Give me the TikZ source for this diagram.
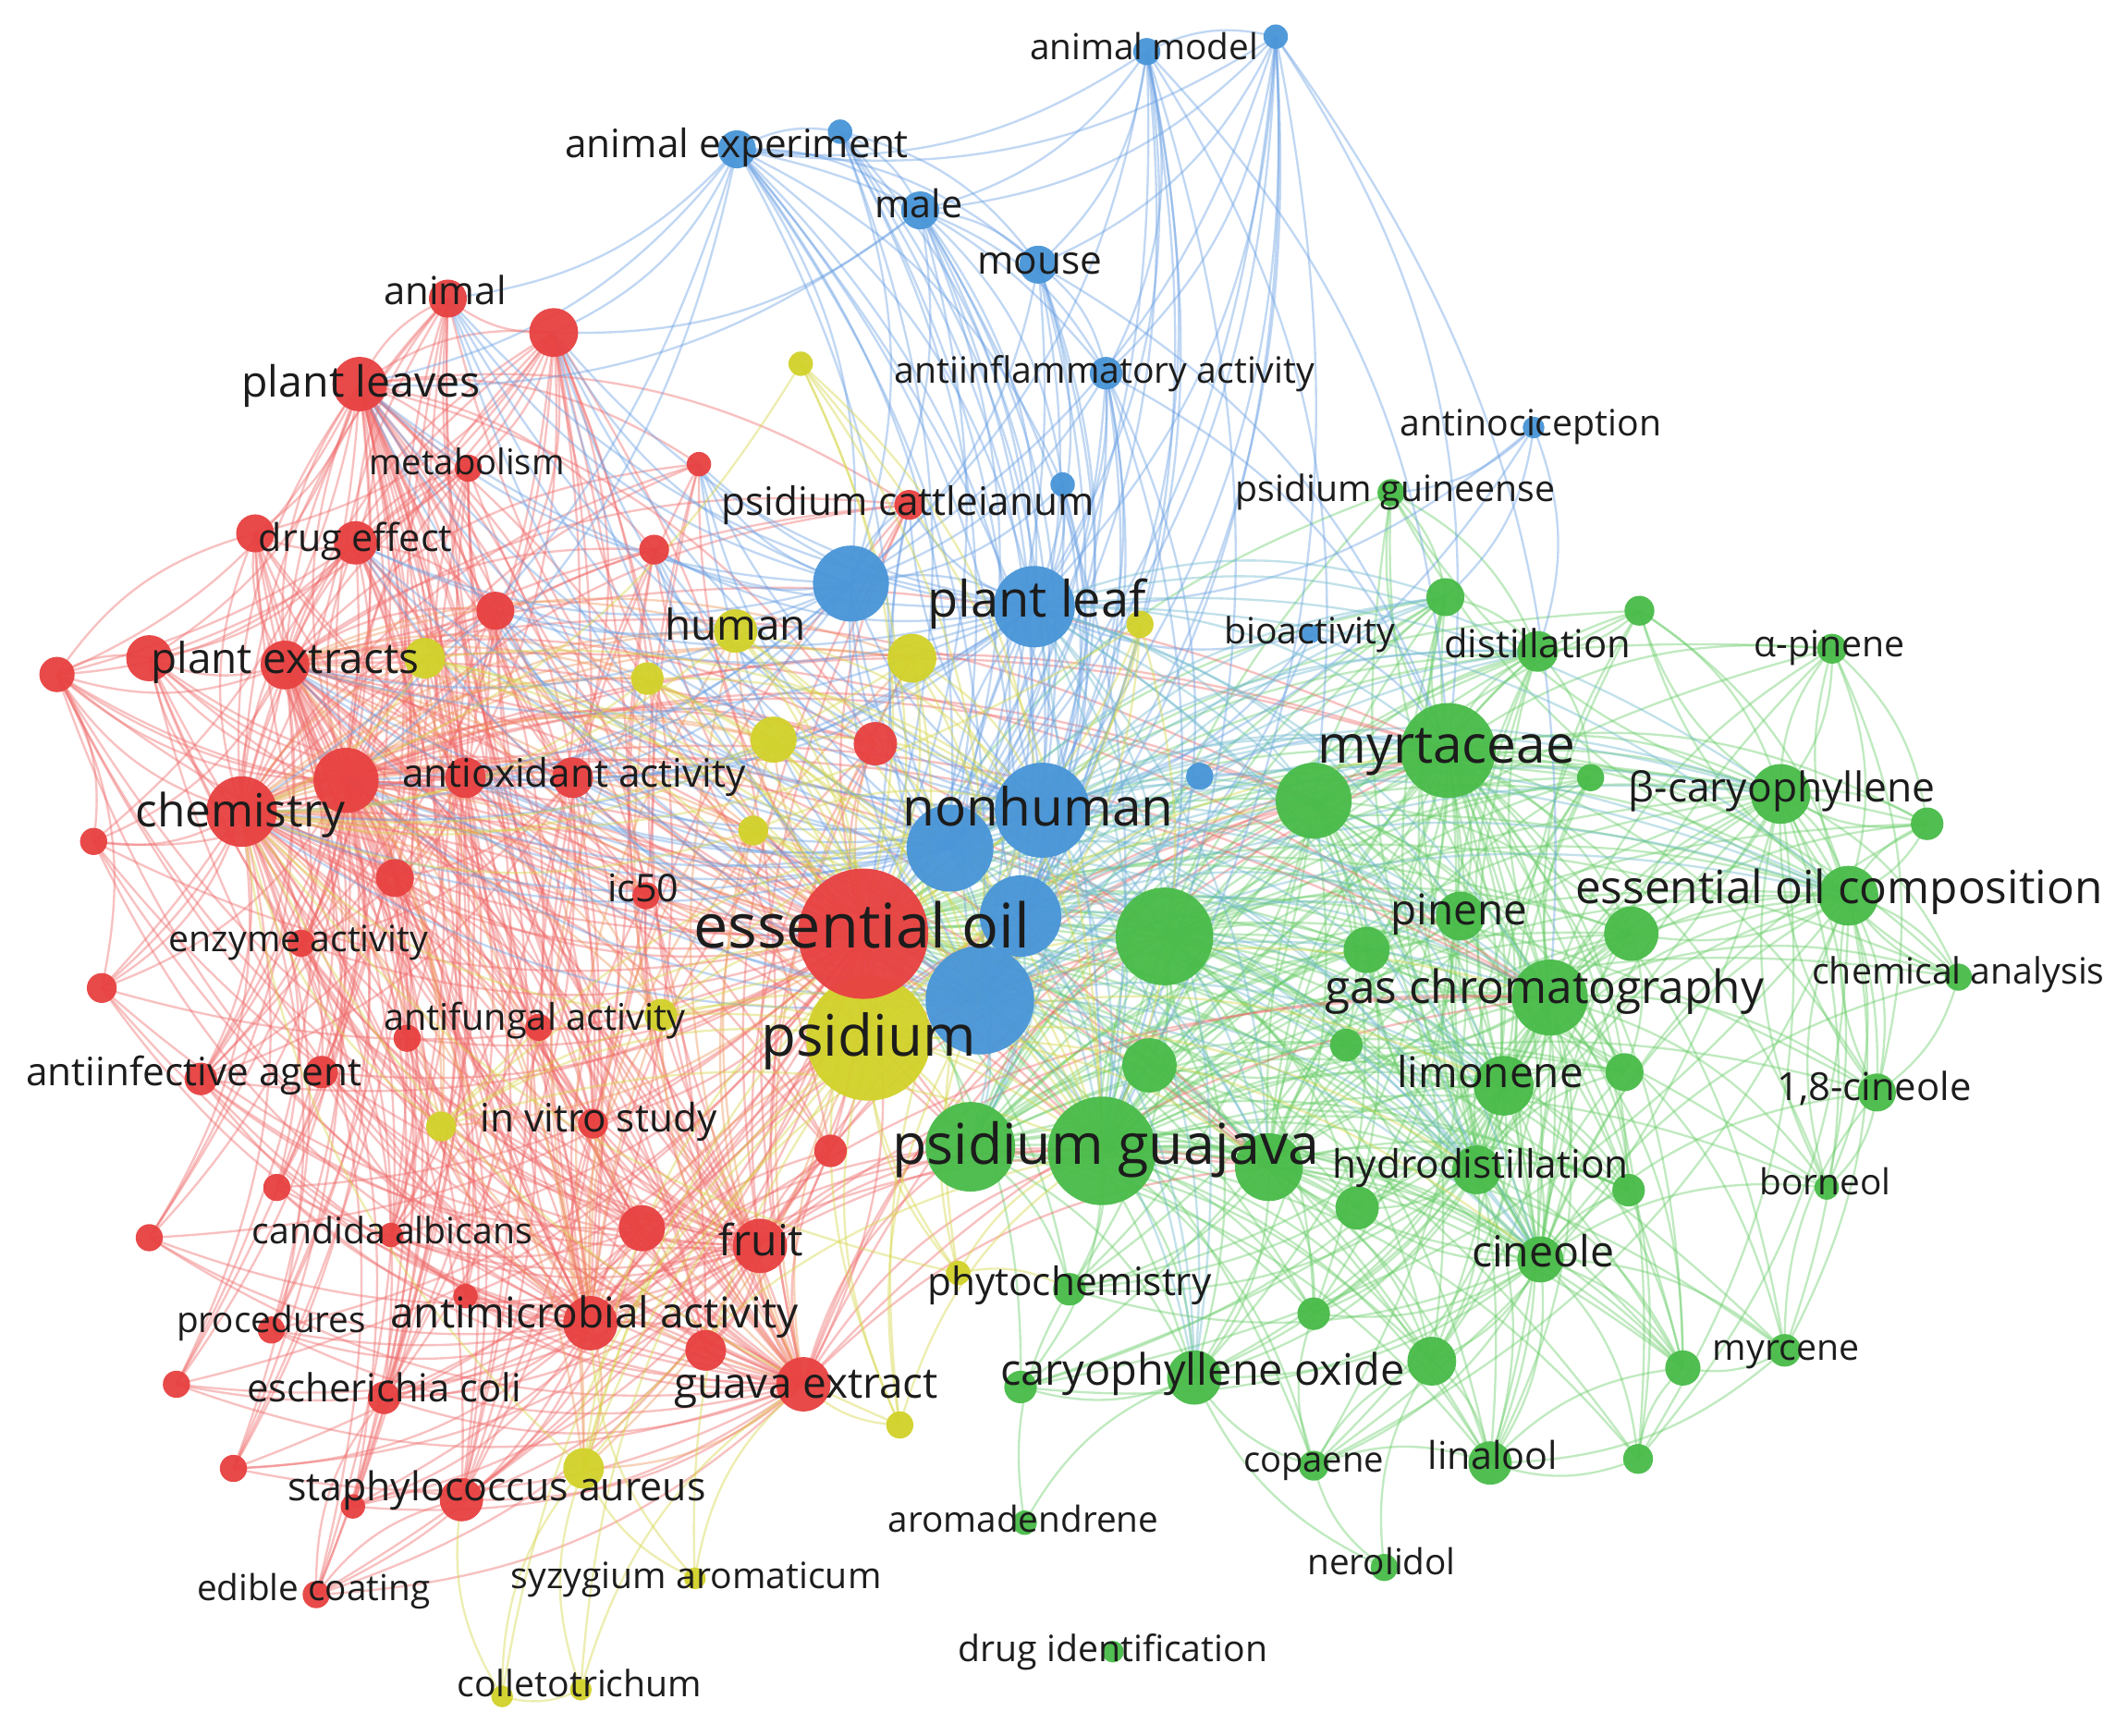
\documentclass[tikz,border=0pt]{standalone}
\usepackage{fontspec}
\setmainfont{Open Sans}
\definecolor{cR}{RGB}{232,66,66}
\definecolor{cG}{RGB}{74,188,74}
\definecolor{cB}{RGB}{74,150,216}
\definecolor{cY}{RGB}{210,210,44}
\definecolor{eR}{RGB}{240,105,105}
\definecolor{eG}{RGB}{105,205,105}
\definecolor{eB}{RGB}{105,160,228}
\definecolor{eY}{RGB}{214,214,70}
\definecolor{eO}{RGB}{238,150,90}
\definecolor{eT}{RGB}{110,185,205}
\definecolor{txt}{RGB}{28,28,28}
\newcommand\fz[1]{\fontsize{#1}{#1}\selectfont}
\newcommand\kwlabel[5]{\node[lab,font=\fz{#4}] (#1) at (#2,{#3+0.95*#4}) {#5};}
\tikzset{
  lk/.style={draw=#1, line width=0.45pt, draw opacity=0.42},
  kw/.style={circle, inner sep=0pt, draw=none, fill=#1, fill opacity=0.96},
  lab/.style={text=txt, inner sep=0pt, anchor=base},
  cv/.style={bend left=20},
}
\def\BlueN{b1/845/38/10, b2/940/27/9, b3/543/110/14, b4/619/97/9, b5/678/155/14, b6/765/195/14, b7/815/275/12, b8/1130/315/8, b9/783/357/9, b10/627/430/28, b11/762/447/30, b12/966/467/7, b13/768/597/35, b14/700/625/32, b15/752/675/30, b16/722/737/40, b17/884/572/10}
\def\RedN{r2/330/220/14, r3/408/245/18, r4/265/283/20, r5/345/345/10, r6/515/342/9, r7/262/400/16, r8/188/393/14, r9/482/405/11, r10/365/450/14, r11/210/490/18, r12/110/485/17, r13/42/497/13, r14/255/575/24, r15/178/598/26, r16/343/573/15, r17/422/573/15, r18/645/548/16, r19/69/620/10, r20/291/647/14, r21/476/660/10, r22/222/695/10, r23/75/728/11, r24/300/765/10, r25/397/757/10, r26/148/795/12, r27/237/790/12, r28/437/828/11, r29/612/848/12, r30/204/875/10, r31/110/912/10, r32/288/910/9, r33/473/905/17, r34/560/918/20, r35/343/955/9, r36/200/980/10, r37/435/975/20, r38/520/995/15, r39/130/1020/10, r40/283/1030/12, r41/592/1020/20, r42/172/1082/10, r43/340/1105/16, r44/260/1110/9, r45/233/1175/10, r46/670/372/11, r1/636/688/48}
\def\YelN{y1/640/765/46, y2/590/268/9, y3/542/465/16, y4/672/485/18, y5/477/500/12, y6/570/545/17, y7/555/612/11, y8/840/460/10, y9/313/485/15, y10/487/748/12, y11/325/830/11, y12/706/938/9, y13/663/1050/10, y14/430/1082/15, y15/512/1163/8, y16/370/1250/8, y17/428/1245/8}
\def\GreN{g1/812/848/40, g2/715/845/33, g3/935/860/25, g4/1025/363/10, g5/1065/440/14, g6/1208/450/11, g7/1133/480/15, g8/1350/478/11, g9/1067/553/35, g10/968/590/28, g11/1172/573/10, g12/1312/585/22, g13/1420/607/12, g14/1362/660/22, g15/1202/688/20, g16/1076/675/18, g17/1007/700/17, g18/858/690/36, g19/1142/735/28, g20/1443/720/10, g21/992/770/12, g22/847/785/20, g23/1108/800/22, g24/1197/790/14, g25/1383/805/14, g26/1088/862/18, g27/1200/877/12, g28/1000/890/16, g29/1346/875/9, g30/1135/928/17, g31/968/968/12, g32/1055/1003/18, g33/880/1015/20, g34/752/1022/12, g35/1315/995/12, g36/1240/1008/13, g37/968/1080/11, g38/1098/1078/16, g39/1207/1075/11, g40/755/1122/9, g41/1020/1155/10, g42/820/1217/8, g43/788/950/12}
% edge groups
\def\RHa{r1,r15,r14,r11,r4,r37,r41,r34}
\def\RM{r2,r5,r6,r8,r9,r10,r12,r13,r18,r19,r20,r21,r22,r23,r24,r25,r26,r27,r28,r29,r30,r31,r32,r35,r36,r38,r39,r40,r42,r43,r44,r45,r46}
\def\RHb{r3,r16,r17,r33,r7}
\def\RMb{r2,r5,r8,r10,r12,r13,r20,r22,r26,r28,r32,r40,r43}
\def\GH{g1,g2,g3,g9,g10,g18,g19,g23,g26,g30}
\def\GMa{g5,g7,g11,g12,g14,g15,g16,g17,g21,g22,g24,g27,g28,g31,g32,g33,g36,g38,g43}
\def\GHb{g1,g9,g19,g14,g12,g30}
\def\GMb{g6,g8,g13,g20,g25,g29,g35,g37,g39,g4,g34}
\def\GAll{g1,g2,g3,g4,g5,g6,g7,g8,g9,g10,g11,g12,g13,g14,g15,g16,g17,g18,g19,g20,g21,g22,g23,g24,g25,g26,g27,g28,g29,g30,g31,g32,g33,g34,g35,g36,g37,g38,g39,g43}
\def\BT{b1,b2,b3,b4,b5,b6,b7,b9}
\def\BC{b13,b14,b15,b16,b10,b11}
\begin{document}
\begin{tikzpicture}[x=0.1mm,y=-0.1mm]
\fill[white] (0,0) rectangle (1568,1279);
\useasboundingbox (0,0) rectangle (1568,1279);
% coordinates
\foreach \n/\x/\y/\r in \BlueN {\coordinate (\n) at (\x,\y);}
\foreach \n/\x/\y/\r in \RedN {\coordinate (\n) at (\x,\y);}
\foreach \n/\x/\y/\r in \YelN {\coordinate (\n) at (\x,\y);}
\foreach \n/\x/\y/\r in \GreN {\coordinate (\n) at (\x,\y);}
% ---------------- edges ----------------
% green
\foreach \a in \GH {\foreach \b in \GMa {\draw[lk=eG] (\a) to[cv] (\b);}}
\foreach \a in \GHb {\foreach \b in \GMb {\draw[lk=eG] (\a) to[cv] (\b);}}
\foreach \a/\b in {g1/g2,g1/g3,g1/g9,g1/g10,g1/g18,g1/g19,g1/g23,g1/g26,g1/g30,g2/g3,g2/g9,g2/g10,g2/g18,g2/g19,g2/g23,g2/g30,g3/g9,g3/g18,g3/g19,g3/g23,g3/g26,g3/g30,g9/g10,g9/g18,g9/g19,g9/g23,g9/g26,g9/g30,g10/g18,g10/g19,g10/g23,g10/g26,g18/g19,g18/g23,g18/g26,g18/g30,g19/g23,g19/g26,g19/g30,g23/g26,g23/g30,g26/g30,
 g8/g12,g8/g13,g8/g14,g8/g25,g13/g12,g13/g14,g20/g14,g20/g25,g20/g12,g25/g14,g25/g12,g25/g29,g29/g14,g29/g12,g35/g36,g35/g25,g35/g38,g39/g38,g39/g36,g6/g7,g6/g12,g6/g14,g12/g14,g12/g15,g14/g15,g16/g17,g15/g24,g37/g33,g37/g32,g37/g31,g37/g38,g41/g37,g41/g33,g41/g32,g40/g43,g40/g33,g4/g5,g4/g7,g5/g7,g7/g11,g38/g36,g33/g34,g32/g38}
 {\draw[lk=eG] (\a) to[cv] (\b);}
% red
\foreach \a in \RHa {\foreach \b in \RM {\draw[lk=eR] (\a) to[cv] (\b);}}
\foreach \a in \RHb {\foreach \b in \RMb {\draw[lk=eR] (\a) to[cv] (\b);}}
\foreach \a/\b in {r1/r15,r1/r14,r1/r11,r1/r4,r1/r3,r1/r37,r1/r41,r1/r34,r1/r16,r1/r17,r1/r33,r1/r7,r15/r14,r15/r11,r15/r4,r15/r3,r15/r37,r15/r41,r15/r34,r15/r16,r15/r7,r15/r33,r14/r11,r14/r4,r14/r3,r14/r37,r14/r41,r14/r16,r14/r17,r14/r7,r11/r4,r11/r3,r11/r37,r11/r7,r11/r16,r4/r3,r4/r7,r4/r37,r4/r16,r4/r17,r3/r7,r3/r17,r3/r37,r3/r34,r37/r41,r37/r34,r37/r33,r37/r16,r41/r34,r41/r33,r34/r33,r16/r17,r7/r16,r13/r12,r13/r19,r13/r8,r13/r23,r45/r43,r45/r40,r44/r43}
 {\draw[lk=eR] (\a) to[cv] (\b);}
% red - yellow
\foreach \a in {r1,r15,r14,r11,r37,r41} {\foreach \b in {y1,y3,y4,y5,y6,y7,y9,y10,y11,y14} {\draw[lk=eO] (\a) to[cv] (\b);}}
% red - green
\foreach \b in \GAll {\draw[lk=eG] (r1) to[cv] (\b);}
\foreach \a in {r15,r14,r11,r37,r41,r34} {\foreach \b in {g1,g2,g3,g9,g10,g18,g19} {\draw[lk=eR] (\a) to[cv] (\b);}}
% blue
\foreach \a in \BT {\foreach \b in \BC {\draw[lk=eB] (\a) to[cv] (\b);}}
\foreach \a/\b in {b1/b2,b1/b3,b1/b5,b1/b6,b1/b7,b2/b3,b2/b5,b3/b4,b3/b5,b3/b6,b3/b7,b4/b5,b5/b6,b5/b7,b6/b7,b2/b6,b4/b6,b3/b9,b5/b9,b2/b7,
 b13/b14,b13/b15,b13/b16,b13/b10,b13/b11,b14/b15,b14/b16,b14/b10,b14/b11,b15/b16,b15/b10,b15/b11,b16/b10,b16/b11,b10/b11,
 b8/b11,b8/b13,b8/g5,b8/g7,b8/g4,b12/b13,b12/b16,b12/b11,b12/g9,b17/b13,b17/b16,b17/g9,b17/g10,
 b3/r2,b3/r3,b3/r4,b3/r14,b3/r15,b5/r3,b5/r1,b5/r4,b4/r1,b1/r1,b6/r1,b7/r1,b3/r1,b2/r1,
 b1/g9,b1/g10,b2/g9,b2/g19,b6/g9,b7/g9,b7/g18,b7/g1,b5/g1,b3/g1,b1/g1,b2/g1}
 {\draw[lk=eB] (\a) to[cv] (\b);}
\foreach \a in {b13,b14,b15,b16,b11} {\foreach \b in {g1,g2,g3,g9,g10,g18,g19,g23,g26,g30,g16,g14,g12,g7,g5,g33} {\draw[lk=eT] (\a) to[cv] (\b);}}
\foreach \a in {b13,b14,b16,b10,b11} {\foreach \b in {r2,r3,r4,r7,r10,r15,r14,r11,r16,r17,r9,r6,r46} {\draw[lk=eB] (\a) to[cv] (\b);}}
% yellow
\foreach \a in {y2,y3,y4,y5,y6,y7,y8,y9,y10,y11,y12,y13,y14} {\foreach \b in {y1,r1,b13,b16,g1,r15} {\draw[lk=eY] (\a) to[cv] (\b);}}
\foreach \b in \GH {\draw[lk=eY] (y1) to[cv] (\b);}
\foreach \a/\b in {y15/y1,y15/r41,y15/y14,y15/r37,y16/y14,y16/y1,y16/r43,y17/y1,y17/r41,y17/y14,y17/y16,y12/g43,y13/r41}
 {\draw[lk=eY] (\a) to[cv] (\b);}
% ---------------- circles ----------------
\foreach \n/\x/\y/\r in \GreN {\node[kw=cG, minimum size=\r*0.2mm] (\n-k) at (\n) {};}
\foreach \n/\x/\y/\r in \YelN {\node[kw=cY, minimum size=\r*0.2mm] (\n-k) at (\n) {};}
\foreach \n/\x/\y/\r in \BlueN {\node[kw=cB, minimum size=\r*0.2mm] (\n-k) at (\n) {};}
\foreach \n/\x/\y/\r in \RedN {\node[kw=cR, minimum size=\r*0.2mm] (\n-k) at (\n) {};}
% ---------------- labels ----------------
\kwlabel{lb1}{843}{37}{7.5}{animal model}
\kwlabel{lb3}{543}{108}{8.2}{animal experiment}
\kwlabel{lb5}{677}{153}{8.0}{male}
\kwlabel{lb6}{766}{194}{8.2}{mouse}
\kwlabel{lb7}{814}{275}{7.6}{antiinflammatory activity}
\kwlabel{lb8}{1128}{314}{7.6}{antinociception}
\kwlabel{lr46}{669}{372}{8.2}{psidium cattleianum}
\kwlabel{lb11}{764}{445}{10.5}{plant leaf}
\kwlabel{lb12}{965}{467}{7.6}{bioactivity}
\kwlabel{lb13}{765}{598}{11.0}{nonhuman}
\kwlabel{lr2}{328}{217}{8.1}{animal}
\kwlabel{lr4}{266}{284}{9.0}{plant leaves}
\kwlabel{lr5}{344}{343}{7.4}{metabolism}
\kwlabel{lr7}{262}{399}{8.0}{drug effect}
\kwlabel{lr11}{210}{488}{8.9}{plant extracts}
\kwlabel{lr15}{177}{600}{9.6}{chemistry}
\kwlabel{lr17}{423}{572}{8.2}{antioxidant activity}
\kwlabel{lr21}{474}{657}{8.0}{ic50}
\kwlabel{lr1}{635}{686}{12.9}{essential oil}
\kwlabel{lr22}{220}{694}{7.6}{enzyme activity}
\kwlabel{lr25}{394}{752}{7.7}{antifungal activity}
\kwlabel{lr26}{143}{792}{8.2}{antiinfective agent}
\kwlabel{lr28}{441}{826}{8.2}{in vitro study}
\kwlabel{lr32}{289}{909}{7.6}{candida albicans}
\kwlabel{lr34}{561}{917}{9.0}{fruit}
\kwlabel{lr36}{200}{975}{7.5}{procedures}
\kwlabel{lr37}{438}{970}{8.9}{antimicrobial activity}
\kwlabel{lr40}{283}{1025}{8.1}{escherichia coli}
\kwlabel{lr41}{594}{1022}{8.9}{guava extract}
\kwlabel{lr43}{366}{1098}{8.3}{staphylococcus aureus}
\kwlabel{lr45}{231}{1172}{7.5}{edible coating}
\kwlabel{ly3}{542}{463}{8.9}{human}
\kwlabel{ly1}{640}{767}{12.0}{psidium}
\kwlabel{ly15}{513}{1163}{7.6}{syzygium aromaticum}
\kwlabel{ly17}{427}{1243}{7.6}{colletotrichum}
\kwlabel{ly12}{788}{947}{8.2}{phytochemistry}
\kwlabel{lg4}{1028}{362}{7.6}{psidium guineense}
\kwlabel{lg7}{1133}{477}{8.1}{distillation}
\kwlabel{lg8}{1348}{477}{7.6}{α-pinene}
\kwlabel{lg9}{1066}{552}{11.0}{myrtaceae}
\kwlabel{lg12}{1313}{583}{8.6}{β-caryophyllene}
\kwlabel{lg14}{1355}{657}{9.6}{essential oil composition}
\kwlabel{lg16}{1075}{673}{8.9}{pinene}
\kwlabel{lg19}{1138}{730}{9.6}{gas chromatography}
\kwlabel{lg20}{1443}{718}{7.6}{chemical analysis}
\kwlabel{lg23}{1098}{793}{8.9}{limonene}
\kwlabel{lg25}{1381}{803}{8.1}{1,8-cineole}
\kwlabel{lg1}{815}{847}{11.8}{psidium guajava}
\kwlabel{lg26}{1091}{860}{8.2}{hydrodistillation}
\kwlabel{lg29}{1345}{873}{7.5}{borneol}
\kwlabel{lg30}{1137}{925}{9.0}{cineole}
\kwlabel{lg33}{886}{1012}{9.1}{caryophyllene oxide}
\kwlabel{lg35}{1316}{995}{7.6}{myrcene}
\kwlabel{lg37}{968}{1078}{7.4}{copaene}
\kwlabel{lg38}{1100}{1075}{8.0}{linalool}
\kwlabel{lg40}{754}{1122}{7.5}{aromadendrene}
\kwlabel{lg41}{1018}{1153}{7.5}{nerolidol}
\kwlabel{lg42}{820}{1217}{7.6}{drug identification}
\end{tikzpicture}
\end{document}
